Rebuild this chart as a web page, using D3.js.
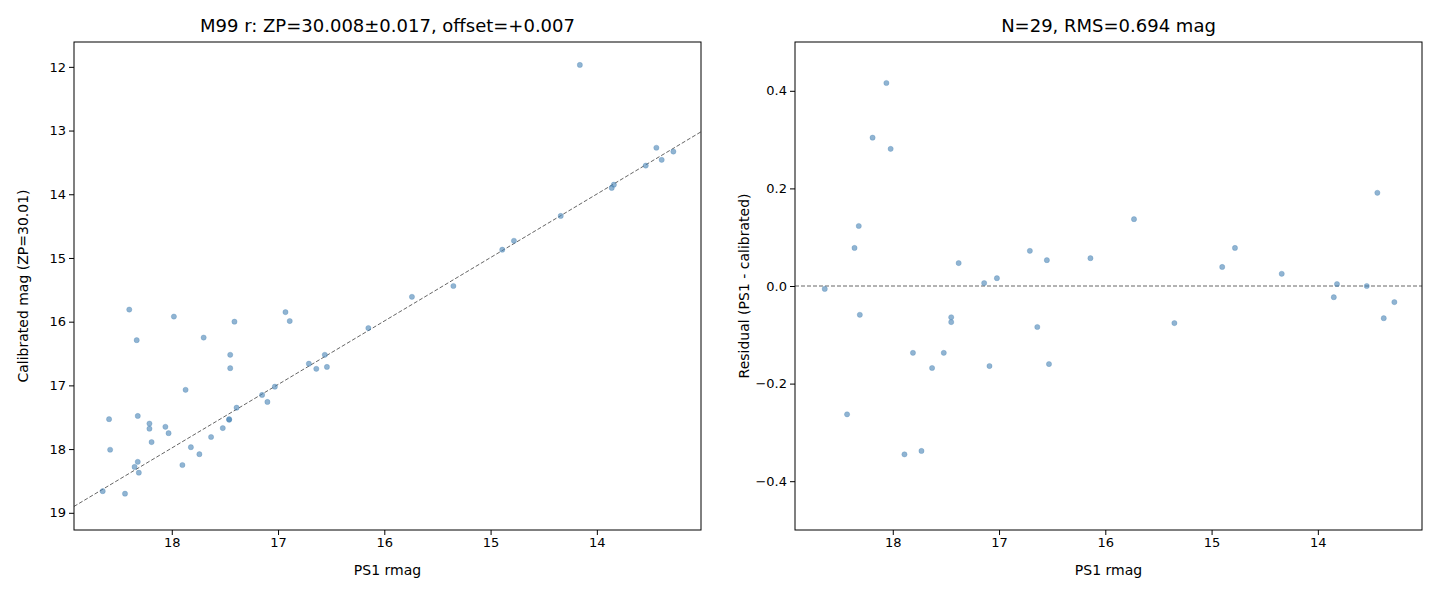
<!DOCTYPE html><html><head><meta charset="utf-8"><script src="https://cdn.jsdelivr.net/npm/d3@7"></script>
<style>body{margin:0;background:#fff}text{font-family:"DejaVu Sans",sans-serif}</style></head><body>
<svg id="c" width="1440" height="600"></svg>
<script>
const leftPS1=[14.16,13.44,13.54,13.39,13.28,13.84,13.86,14.34,14.78,14.89,15.35,15.74,16.15,16.54,16.56,16.71,16.64,16.89,16.93,17.03,17.15,17.10,17.39,17.41,17.45,17.45,17.46,17.46,17.52,17.63,17.87,17.70,17.98,17.82,18.06,18.03,17.90,17.74,18.21,18.21,18.19,18.32,18.33,18.32,18.31,18.35,18.40,18.44,18.59,18.58,18.65];
const leftCal=[11.97,13.27,13.55,13.46,13.33,13.85,13.90,14.34,14.73,14.87,15.44,15.61,16.10,16.71,16.52,16.66,16.74,15.99,15.85,17.02,17.15,17.26,17.35,16.00,16.52,16.73,17.54,17.53,17.67,17.81,17.07,16.25,15.92,17.97,17.65,17.75,18.25,18.08,17.60,17.68,17.89,17.48,16.29,18.20,18.37,18.28,15.81,18.70,17.53,18.01,18.66];
const rightPS1=[18.64,18.43,18.36,18.32,18.31,18.19,18.06,18.02,17.89,17.81,17.73,17.63,17.52,17.45,17.45,17.38,17.14,17.09,17.02,16.71,16.64,16.55,16.53,16.14,15.73,15.35,14.90,14.78,14.34,13.85,13.82,13.54,13.44,13.38,13.28];
const rightRes=[-0.006,-0.263,0.078,0.123,-0.059,0.304,0.416,0.281,-0.345,-0.137,-0.338,-0.168,-0.137,-0.064,-0.074,0.047,0.006,-0.164,0.016,0.072,-0.084,0.053,-0.160,0.057,0.137,-0.076,0.039,0.078,0.025,-0.023,0.004,0.0,0.191,-0.066,-0.033];
const xTicks=[18,17,16,15,14];
const leftYTicks=[12,13,14,15,16,17,18,19];
const rightYTicks=[-0.4,-0.2,0.0,0.2,0.4];
const svg=d3.select("#c");
function panel(x0,x1,yDom,yTicks,fmt,title,ylab,xs,ys,refLine){
  const top=42,bot=530;
  const x=d3.scaleLinear().domain([18.92,13.02]).range([x0,x1]);
  const y=d3.scaleLinear().domain(yDom).range([top,bot]);
  const g=svg.append("g");
  if(refLine==="diag"){g.append("line").attr("x1",x(18.92)).attr("y1",y(18.90)).attr("x2",x(13.02)).attr("y2",y(13.02)).attr("stroke","#666").attr("stroke-dasharray","4,2").attr("stroke-width",1);}
  else{g.append("line").attr("x1",x0).attr("x2",x1).attr("y1",y(0)).attr("y2",y(0)).attr("stroke","#666").attr("stroke-dasharray","4,2").attr("stroke-width",1);}
  g.selectAll("circle.p").data(xs).join("circle").attr("cx",d=>x(d)).attr("cy",(d,i)=>y(ys[i])).attr("r",2.6).attr("fill","steelblue").attr("fill-opacity",0.6).attr("stroke","steelblue").attr("stroke-opacity",0.6).attr("stroke-width",0.5);
  g.append("g").attr("transform",`translate(0,${bot})`).call(d3.axisBottom(x).tickValues(xTicks).tickFormat(d3.format("d")).tickSize(5).tickSizeOuter(0)).call(a=>{a.select(".domain").remove();a.selectAll("text").attr("font-size",13).attr("fill","#000");});
  g.append("g").attr("transform",`translate(${x0},0)`).call(d3.axisLeft(y).tickValues(yTicks).tickFormat(fmt).tickSize(5)).call(a=>{a.select(".domain").remove();a.selectAll("text").attr("font-size",13).attr("fill","#000");});
  g.append("rect").attr("x",x0).attr("y",top).attr("width",x1-x0).attr("height",bot-top).attr("fill","none").attr("stroke","#000").attr("stroke-width",1);
  g.append("text").attr("x",(x0+x1)/2).attr("y",32).attr("text-anchor","middle").attr("font-size",18).text(title);
  g.append("text").attr("x",(x0+x1)/2).attr("y",575).attr("text-anchor","middle").attr("font-size",14).text("PS1 rmag");
  g.append("text").attr("transform",`translate(${x0-46},${(top+bot)/2}) rotate(-90)`).attr("text-anchor","middle").attr("font-size",14).text(ylab);
}
panel(74,701,[11.61,19.27],leftYTicks,d3.format("d"),"M99 r: ZP=30.008±0.017, offset=+0.007","Calibrated mag (ZP=30.01)",leftPS1,leftCal,"diag");
panel(795,1422,[0.5,-0.5],rightYTicks,d=>d3.format(".1f")(d).replace("-","−"),"N=29, RMS=0.694 mag","Residual (PS1 - calibrated)",rightPS1,rightRes,"h");
</script></body></html>
